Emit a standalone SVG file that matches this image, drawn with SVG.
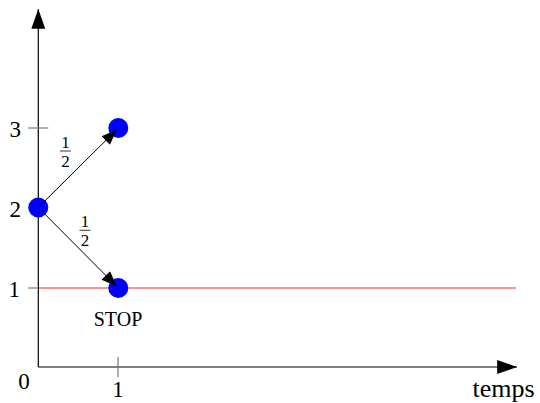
<svg xmlns="http://www.w3.org/2000/svg" width="540" height="403" viewBox="0 0 540 403">
<defs>
<style>
text{font-family:"Liberation Serif","Times New Roman",serif;fill:#000}
.lab{font-size:23px}
.frac{font-size:17px;text-anchor:middle}
.axis{stroke:#000;stroke-width:1.2;fill:none}
.tick{stroke:#777;stroke-width:1.2}
.edge{stroke:#000;stroke-width:1;fill:none}
.node{fill:#0000ff}
</style>
<marker id="axhead" markerUnits="userSpaceOnUse" markerWidth="20" markerHeight="14" refX="17" refY="6" orient="auto" viewBox="0 0 17 12">
<path d="M0,0 L17,6 L0,12 Z" fill="#000"/>
</marker>
<marker id="edhead" markerUnits="userSpaceOnUse" markerWidth="16" markerHeight="12" refX="14" refY="5.5" orient="auto" viewBox="0 0 14 11">
<path d="M0,0 L14,5.5 L0,11 Z" fill="#000"/>
</marker>
</defs>
<rect width="540" height="403" fill="#fff"/>
<g id="stopline">
<line x1="38.3" y1="288" x2="516" y2="288" stroke="#ff6f6f" stroke-width="1.3"/>
</g>
<g id="axes">
<line class="axis" x1="38.3" y1="367" x2="38.3" y2="9" marker-end="url(#axhead)"/>
<line class="axis" x1="38.3" y1="367" x2="517" y2="367" marker-end="url(#axhead)"/>
<line class="tick" x1="28.3" y1="128" x2="48.3" y2="128"/>
<line class="tick" x1="28.3" y1="208" x2="38.3" y2="208"/>
<line class="tick" x1="28.3" y1="288" x2="38.3" y2="288"/>
<line class="tick" x1="118" y1="357" x2="118" y2="377"/>
<text class="lab" x="21" y="137" text-anchor="end">3</text>
<text class="lab" x="21" y="217" text-anchor="end">2</text>
<text class="lab" x="20" y="297" text-anchor="end">1</text>
<text class="lab" x="24" y="388.5" text-anchor="middle">0</text>
<text class="lab" x="118" y="397" text-anchor="middle">1</text>
<text x="472.5" y="397" style="font-size:26px">temps</text>
</g>
<g id="n2"><circle class="node" cx="38.3" cy="207.5" r="10"/></g>
<g id="n3"><circle class="node" cx="118.3" cy="128" r="10"/></g>
<g id="n1"><circle class="node" cx="118.3" cy="288" r="10"/><text x="118" y="326" text-anchor="middle" style="font-size:20px">STOP</text></g>
<g id="connectors">
<line class="edge" x1="38.3" y1="207.5" x2="116.6" y2="129.7" marker-end="url(#edhead)"/>
<line class="edge" x1="38.3" y1="207.5" x2="116.6" y2="286.3" marker-end="url(#edhead)"/>
<g id="label-up">
<text class="frac" x="65.5" y="147.5">1</text>
<line x1="60" y1="151" x2="71" y2="151" stroke="#000" stroke-width="0.8"/>
<text class="frac" x="65.5" y="166.5">2</text>
</g>
<g id="label-down">
<text class="frac" x="85" y="226.5">1</text>
<line x1="79.5" y1="230.3" x2="90.5" y2="230.3" stroke="#000" stroke-width="0.8"/>
<text class="frac" x="85" y="246">2</text>
</g>
</g>
</svg>
